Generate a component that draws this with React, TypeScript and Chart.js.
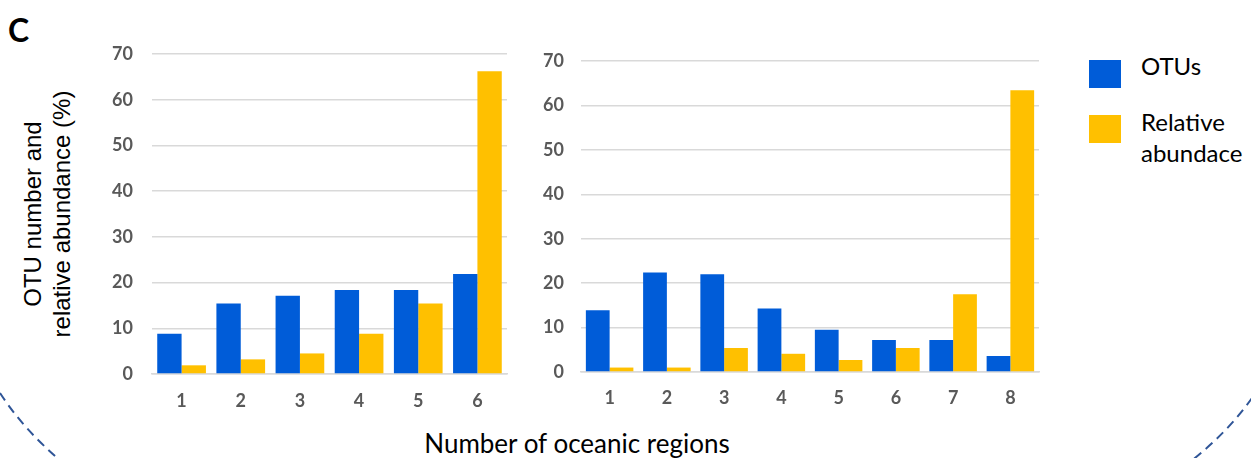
import React, { useEffect, useRef } from "react";
import { Chart, registerables } from "chart.js";

Chart.register(...registerables);

// ---- data ----
const leftCategories = ["1", "2", "3", "4", "5", "6"];
const leftOtus = [8.8, 15.4, 17.1, 18.4, 18.4, 21.9];
const leftAbundance = [1.9, 3.2, 4.5, 8.8, 15.4, 66.2];

const rightCategories = ["1", "2", "3", "4", "5", "6", "7", "8"];
const rightOtus = [13.9, 22.4, 22.0, 14.3, 9.5, 7.2, 7.2, 3.6];
const rightAbundance = [1.0, 1.0, 5.4, 4.1, 2.7, 5.4, 17.5, 63.4];

const yMin = 0;
const yMax = 70;
const yStep = 10;

const seriesNames = ["OTUs", "Relative abundace"];
const panelLabel = "C";
const yTitleLines = ["OTU number and", "relative abundance (%)"];
const xTitle = "Number of oceanic regions";

const BLUE = "#005CD8";
const YELLOW = "#FFC000";
const TICK = "#595959";
const GRID = "#D9D9D9";

type PanelProps = {
  labels: string[];
  otus: number[];
  abundance: number[];
  left: number;
  top: number;
  width: number;
  height: number;
  padTop: number;
  padRight: number;
  yWidth: number;
  yPad: number;
  xPad: number;
  catPct: number;
};

function BarPanel(p: PanelProps) {
  const ref = useRef<HTMLCanvasElement | null>(null);
  useEffect(() => {
    if (!ref.current) return;
    const tickFont = { family: "Lato", size: 18, weight: "bold" as const };
    const chart = new Chart(ref.current, {
      type: "bar",
      data: {
        labels: p.labels,
        datasets: [
          {
            label: seriesNames[0],
            data: p.otus,
            backgroundColor: BLUE,
            borderWidth: 0,
            categoryPercentage: p.catPct,
            barPercentage: 1,
          },
          {
            label: seriesNames[1],
            data: p.abundance,
            backgroundColor: YELLOW,
            borderWidth: 0,
            categoryPercentage: p.catPct,
            barPercentage: 1,
          },
        ],
      },
      options: {
        responsive: false,
        animation: false,
        layout: { padding: { top: p.padTop, right: p.padRight, left: 0, bottom: 0 } },
        plugins: { legend: { display: false }, tooltip: { enabled: false } },
        scales: {
          x: {
            grid: { display: false, drawTicks: false },
            border: { display: true, color: GRID, width: 1.5 },
            ticks: { color: TICK, font: tickFont, padding: p.xPad, maxRotation: 0 },
            afterFit: (s: any) => {
              s.height = 40;
              s.paddingLeft = 0;
              s.paddingRight = 0;
            },
          },
          y: {
            min: yMin,
            max: yMax,
            ticks: { stepSize: yStep, color: TICK, font: tickFont, padding: p.yPad },
            grid: { color: GRID, lineWidth: 1.5, drawTicks: false },
            border: { display: false },
            afterFit: (s: any) => {
              s.width = p.yWidth;
              s.paddingTop = 0;
              s.paddingBottom = 0;
            },
          },
        },
      },
    });
    return () => chart.destroy();
  }, []);
  return (
    <canvas
      ref={ref}
      width={p.width}
      height={p.height}
      style={{ position: "absolute", left: p.left, top: p.top, width: p.width, height: p.height }}
    />
  );
}

export default function App() {
  return (
    <div
      style={{
        position: "absolute",
        left: 0,
        top: 0,
        width: 1251,
        height: 458,
        overflow: "hidden",
        background: "#fff",
      }}
    >
      <div
        style={{
          position: "absolute",
          left: 8,
          top: 10,
          fontFamily: "Lato",
          fontWeight: 700,
          fontSize: 32,
          lineHeight: "normal",
          color: "#000",
        }}
      >
        {panelLabel}
      </div>

      <div
        style={{
          position: "absolute",
          left: -103,
          top: 185,
          width: 300,
          height: 58,
          transform: "rotate(-90deg)",
          transformOrigin: "center",
          textAlign: "center",
          fontFamily: "'Liberation Sans', Arial, sans-serif",
          fontSize: 24,
          lineHeight: "29px",
          color: "#000",
          whiteSpace: "nowrap",
        }}
      >
        <div>{yTitleLines[0]}</div>
        <div>{yTitleLines[1]}</div>
      </div>

      <BarPanel
        labels={leftCategories}
        otus={leftOtus}
        abundance={leftAbundance}
        left={100}
        top={40}
        width={415}
        height={374}
        padTop={14}
        padRight={8}
        yWidth={52}
        yPad={19}
        xPad={16}
        catPct={0.823}
      />
      <BarPanel
        labels={rightCategories}
        otus={rightOtus}
        abundance={rightAbundance}
        left={520}
        top={40}
        width={525}
        height={372}
        padTop={21}
        padRight={6}
        yWidth={61}
        yPad={17}
        xPad={15}
        catPct={0.83}
      />

      <div
        style={{
          position: "absolute",
          left: 377,
          width: 400,
          top: 427,
          textAlign: "center",
          fontFamily: "Lato",
          fontSize: 26,
          lineHeight: "normal",
          color: "#000",
          whiteSpace: "nowrap",
        }}
      >
        {xTitle}
      </div>

      <div style={{ position: "absolute", left: 1089, top: 60, width: 32, height: 28, background: BLUE }} />
      <div style={{ position: "absolute", left: 1089, top: 115, width: 32, height: 28, background: YELLOW }} />
      <div
        style={{
          position: "absolute",
          left: 1141,
          top: 50,
          fontFamily: "Lato",
          fontSize: 24,
          lineHeight: "32px",
          color: "#000",
          whiteSpace: "nowrap",
        }}
      >
        {seriesNames[0]}
      </div>
      <div
        style={{
          position: "absolute",
          left: 1141,
          top: 106,
          width: 110,
          fontFamily: "Lato",
          fontSize: 24,
          lineHeight: "31px",
          color: "#000",
        }}
      >
        <div>Relative</div>
        <div>abundace</div>
      </div>

      <svg
        width={1251}
        height={458}
        style={{ position: "absolute", left: 0, top: 0, pointerEvents: "none" }}
      >
        <path
          d="M 0 393 Q 24 430 62 462"
          fill="none"
          stroke="#2F5597"
          strokeWidth={2}
          strokeDasharray="9 6"
        />
        <path
          d="M 1252 398 Q 1228 432 1190 462"
          fill="none"
          stroke="#2F5597"
          strokeWidth={2}
          strokeDasharray="9 6"
        />
      </svg>
    </div>
  );
}
